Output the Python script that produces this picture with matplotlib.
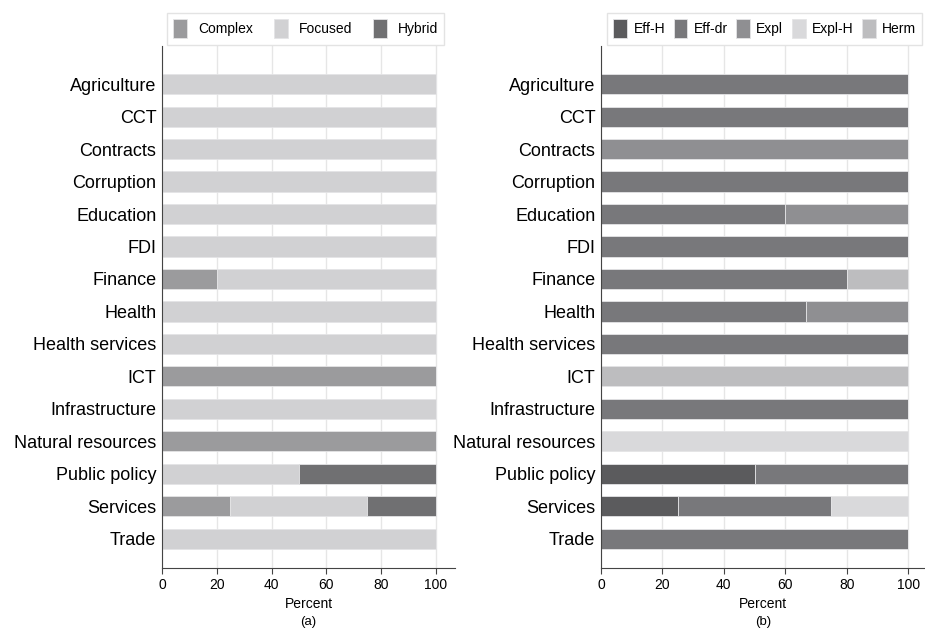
import numpy as np
import matplotlib
matplotlib.use("Agg")
import matplotlib.pyplot as plt

plt.rcParams['font.family'] = ['Liberation Sans', 'DejaVu Sans']

sectors = ["Agriculture", "CCT", "Contracts", "Corruption", "Education", "FDI",
           "Finance", "Health", "Health services", "ICT", "Infrastructure",
           "Natural resources", "Public policy", "Services", "Trade"]

# panel (a): percent of studies by design type
complex_pct = [0, 0, 0, 0, 0, 0, 20, 0, 0, 100, 0, 100, 0, 25, 0]
focused_pct = [100, 100, 100, 100, 100, 100, 80, 100, 100, 0, 100, 0, 50, 50, 100]
hybrid_pct = [0, 0, 0, 0, 0, 0, 0, 0, 0, 0, 0, 0, 50, 25, 0]

# panel (b): percent of studies by strategy
eff_h = [0, 0, 0, 0, 0, 0, 0, 0, 0, 0, 0, 0, 50, 25, 0]
eff_dr = [100, 100, 0, 100, 60, 100, 80, 66.7, 100, 0, 100, 0, 50, 50, 100]
expl = [0, 0, 100, 0, 40, 0, 0, 33.3, 0, 0, 0, 0, 0, 0, 0]
expl_h = [0, 0, 0, 0, 0, 0, 0, 0, 0, 0, 0, 100, 0, 25, 0]
herm = [0, 0, 0, 0, 0, 0, 20, 0, 0, 100, 0, 0, 0, 0, 0]

panel_a = [("Complex", complex_pct, "#9b9b9d"),
           ("Focused", focused_pct, "#d1d1d3"),
           ("Hybrid", hybrid_pct, "#707072")]
panel_b = [("Eff-H", eff_h, "#5b5b5d"),
           ("Eff-dr", eff_dr, "#78787b"),
           ("Expl", expl, "#8f8f92"),
           ("Expl-H", expl_h, "#d9d9db"),
           ("Herm", herm, "#bdbdbf")]

fig = plt.figure(figsize=(9.25, 6.32), dpi=100)
ax_a = fig.add_axes([0.1751, 0.1013, 0.3168, 0.8257])
ax_b = fig.add_axes([0.6497, 0.1013, 0.3503, 0.8257])

y = np.arange(len(sectors))


def stacked(ax, series, xmax, tag):
    left = np.zeros(len(sectors))
    for name, vals, color in series:
        vals = np.array(vals, dtype=float)
        ax.barh(y, vals, left=left, height=0.62, color=color, label=name,
                edgecolor="#e4e4e6", linewidth=0.6, zorder=2)
        left += vals
    ax.set_yticks(y)
    ax.set_yticklabels(sectors, fontsize=13)
    ax.set_ylim(14.9, -1.17)
    ax.set_xlim(0, xmax)
    ax.set_xticks([0, 20, 40, 60, 80, 100])
    ax.tick_params(axis="x", labelsize=10, length=4, color="#444444")
    ax.tick_params(axis="y", length=0, pad=4)
    ax.grid(axis="x", color="#e6e6e6", linewidth=1, zorder=0)
    ax.set_axisbelow(True)
    for s in ["top", "right"]:
        ax.spines[s].set_visible(False)
    for s in ["left", "bottom"]:
        ax.spines[s].set_color("#444444")
    ax.set_xlabel("Percent", fontsize=10, labelpad=3)
    ax.text(0.5, -0.092, tag, transform=ax.transAxes, ha="center", va="top",
            fontsize=9.5)


stacked(ax_a, panel_a, 107, "(a)")
stacked(ax_b, panel_b, 105.5, "(b)")

leg_kw = dict(fontsize=10, frameon=True, fancybox=False, edgecolor="#dddddd",
              handlelength=1.0, handleheight=1.8, borderpad=0.45,
              borderaxespad=0.1)
ax_a.legend(loc="lower center", bbox_to_anchor=(0.49, 1.0), ncol=3,
            handletextpad=0.8, columnspacing=1.5, **leg_kw)
ax_b.legend(loc="lower left", bbox_to_anchor=(0.015, 1.0), ncol=5,
            handletextpad=0.45, columnspacing=0.6, **leg_kw)

fig.savefig("out.png", dpi=100)
